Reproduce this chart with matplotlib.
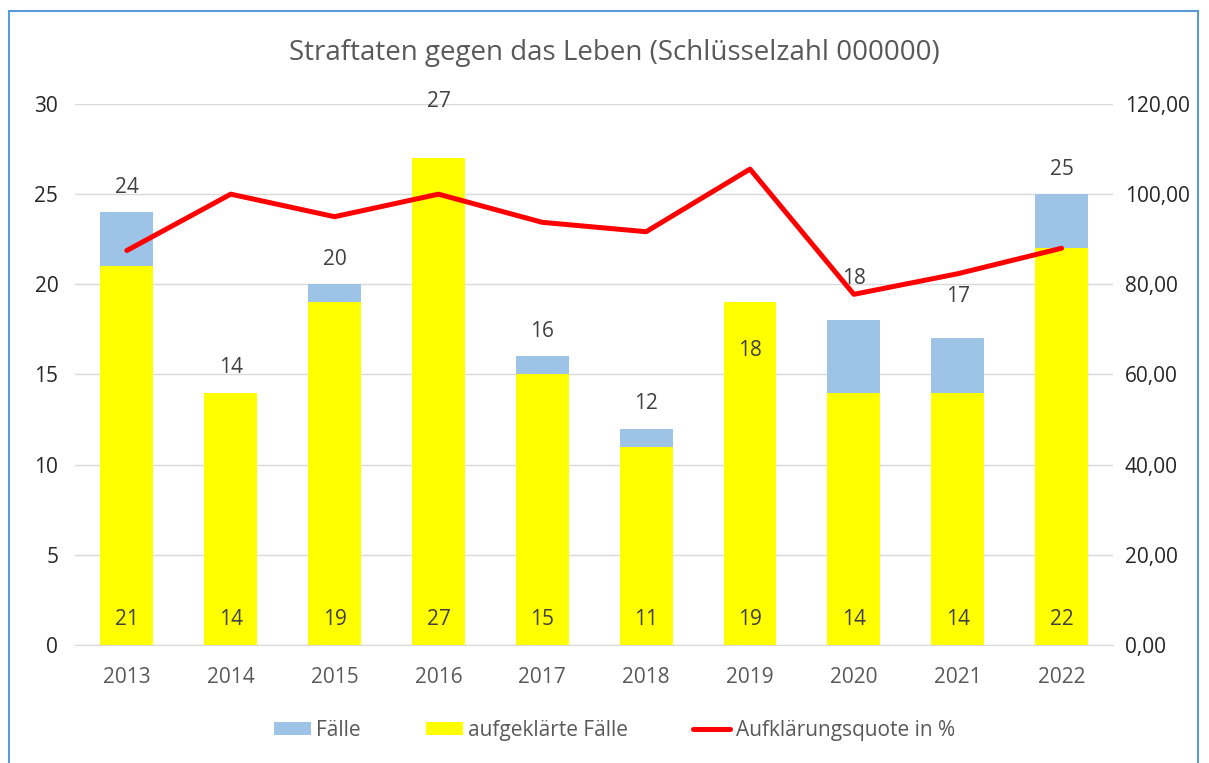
import matplotlib.pyplot as plt
from matplotlib.patches import Rectangle
from matplotlib.ticker import FuncFormatter

# data
years = ["2013", "2014", "2015", "2016", "2017", "2018", "2019", "2020", "2021", "2022"]
faelle = [24, 14, 20, 27, 16, 12, 18, 18, 17, 25]
aufgeklaert = [21, 14, 19, 27, 15, 11, 19, 14, 14, 22]
quote = [87.50, 100.00, 95.00, 100.00, 93.75, 91.67, 105.56, 77.78, 82.35, 88.00]

plt.rcParams['font.family'] = ['Open Sans', 'DejaVu Sans']

fig = plt.figure(figsize=(12.09, 7.63), dpi=100)
ax = fig.add_axes([0.062, 0.1547, 0.859, 0.709])
ax2 = ax.twinx()

x = range(len(years))
blue = "#9dc3e6"
yellow = "#ffff00"
txt = "#595959"
fs = 15

ax.bar(x, faelle, width=0.51, color=blue, label="Fälle", zorder=2)
ax.bar(x, aufgeklaert, width=0.51, color=yellow, label="aufgeklärte Fälle", zorder=3)
ax2.plot(x, quote, color="#ff0000", lw=3.6, label="Aufklärungsquote in %",
         solid_capstyle="round", solid_joinstyle="round")

# value labels: Fälle above the bar, some were moved by hand in the original
nudge = {3: 23, 6: -40, 7: 12, 8: 12}
for i, v in enumerate(faelle):
    ax.annotate(str(v), (i, v), xytext=(0, 18 + nudge.get(i, 0)), textcoords="offset points",
                ha="center", va="center", fontsize=fs, color="#404040", zorder=5)
for i, v in enumerate(aufgeklaert):
    ax.annotate(str(v), (i, 0), xytext=(0, 18), textcoords="offset points",
                ha="center", va="center", fontsize=fs, color="#404040", zorder=5)

ax.set_xlim(-0.5, len(years) - 0.5)
ax.set_ylim(0, 30)
ax.set_yticks(range(0, 31, 5))
ax2.set_ylim(0, 120)
ax2.set_yticks(range(0, 121, 20))
ax2.yaxis.set_major_formatter(FuncFormatter(lambda v, p: f"{v:.2f}".replace(".", ",")))
ax.set_xticks(list(x))
ax.set_xticklabels(years)

ax.grid(axis="y", color="#d9d9d9", lw=1, zorder=0)
ax.set_axisbelow(True)
for a in (ax, ax2):
    for s in a.spines.values():
        s.set_visible(False)
ax.spines["bottom"].set_visible(True)
ax.spines["bottom"].set_color("#d9d9d9")
ax.tick_params(axis="y", length=0, labelsize=fs, labelcolor="#262626", pad=12)
ax2.tick_params(axis="y", length=0, labelsize=fs, labelcolor="#262626", pad=8)
ax.tick_params(axis="x", length=0, labelsize=fs, labelcolor=txt, pad=16)

fig.text(0.508, 0.930, "Straftaten gegen das Leben (Schlüsselzahl 000000)",
         ha="center", va="center", fontsize=20, color=txt)

h1, l1 = ax.get_legend_handles_labels()
h2, l2 = ax2.get_legend_handles_labels()
fig.legend(h1 + h2, l1 + l2, loc="center", bbox_to_anchor=(0.508, 0.043), ncol=3,
           frameon=False, fontsize=fs, labelcolor=txt, handlelength=1.8,
           handleheight=0.6, handletextpad=0.25, columnspacing=3.1)

# chart border
fig.patches.append(Rectangle((0.0075, -0.01), 0.983, 0.996, transform=fig.transFigure,
                             fill=False, edgecolor="#5b9bd5", lw=1.5))

fig.savefig("out.png", dpi=100)
